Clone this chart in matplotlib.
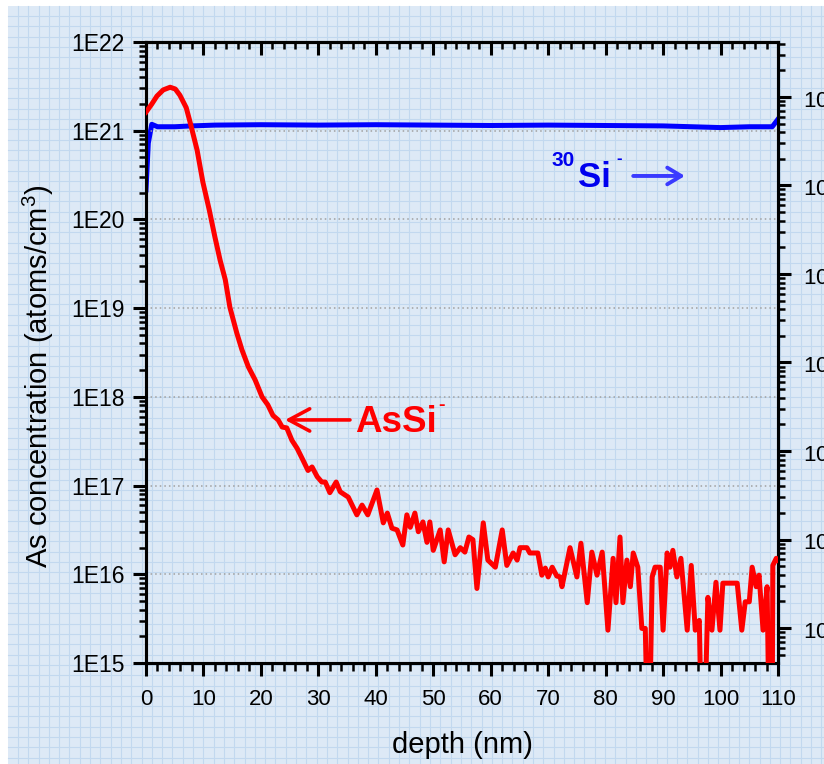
import numpy as np
import matplotlib
matplotlib.use("Agg")
import matplotlib.pyplot as plt
from matplotlib.ticker import FixedLocator, MultipleLocator, LogLocator, FuncFormatter, NullFormatter

plt.rcParams['font.family'] = ['Liberation Sans', 'DejaVu Sans']
plt.rcParams['mathtext.fontset'] = 'custom'
plt.rcParams['mathtext.rm'] = 'Liberation Sans'
plt.rcParams['mathtext.it'] = 'Liberation Sans:italic'
plt.rcParams['mathtext.bf'] = 'Liberation Sans:bold'

# AsSi- profile: depth (nm) and log10 of As concentration (atoms/cm3)
as_depth = [0.0, 1.0, 1.9, 3.0, 4.2, 5.1, 5.9, 7.0, 7.7, 8.9, 9.9, 11.0, 12.0, 12.9, 13.8,
            14.6, 15.8, 16.7, 17.8, 19.0, 20.2, 21.2, 22.1, 23.0, 23.7, 24.5, 25.4, 26.3,
            27.3, 28.2, 28.9, 29.8, 30.6, 31.2, 32.0, 33.1, 33.8, 35.2, 36.7, 37.6, 38.6,
            40.2, 41.3, 42.0, 42.8, 43.7, 44.7, 45.4, 46.0, 46.8, 47.4, 48.2, 48.9, 49.4,
            50.0, 51.2, 51.9, 52.6, 53.8, 54.7, 55.5, 56.2, 56.9, 57.6, 58.7, 59.5, 60.8,
            62.0, 62.8, 63.9, 64.6, 65.1, 66.3, 66.8, 68.2, 68.9, 69.5, 70.0, 70.7, 71.5,
            72.1, 72.4, 73.8, 75.0, 75.7, 76.8, 77.6, 78.5, 79.4, 80.4, 81.3, 81.8, 82.5,
            83.0, 83.7, 84.3, 84.8, 85.6, 86.3, 86.9, 87.2, 87.7, 88.1, 88.6, 89.5, 90.0,
            90.7, 91.2, 91.7, 92.4, 93.1, 94.2, 94.9, 95.6, 96.3, 96.6, 97.3, 97.8, 98.5,
            99.2, 99.9, 100.4, 102.9, 103.7, 104.3, 105.0, 105.5, 106.2, 106.7, 107.4,
            108.1, 108.4, 109.0, 109.1, 109.7, 110.0]
as_log10 = [21.21, 21.30, 21.39, 21.46, 21.49, 21.47, 21.40, 21.26, 21.09, 20.78, 20.42,
            20.11, 19.80, 19.54, 19.32, 19.01, 18.72, 18.53, 18.34, 18.19, 18.00, 17.91,
            17.79, 17.74, 17.66, 17.65, 17.51, 17.42, 17.29, 17.17, 17.21, 17.10, 17.04,
            17.04, 16.92, 17.04, 16.93, 16.87, 16.67, 16.78, 16.67, 16.95, 16.58, 16.69,
            16.52, 16.50, 16.33, 16.67, 16.53, 16.69, 16.48, 16.59, 16.36, 16.59, 16.27,
            16.50, 16.14, 16.50, 16.22, 16.30, 16.25, 16.42, 16.39, 15.84, 16.58, 16.16,
            16.08, 16.50, 16.10, 16.24, 16.16, 16.30, 16.30, 16.24, 16.24, 15.99, 16.07,
            15.97, 16.08, 15.98, 15.97, 15.86, 16.30, 15.97, 16.35, 15.68, 16.25, 15.99,
            16.25, 15.37, 16.18, 15.68, 16.42, 15.68, 16.16, 15.86, 16.24, 16.08, 15.39,
            15.39, 14.50, 14.50, 15.97, 16.08, 16.08, 15.37, 16.24, 16.08, 16.27, 15.97,
            16.18, 15.37, 16.10, 15.37, 15.48, 14.50, 14.50, 15.74, 15.37, 15.91, 15.37,
            15.90, 15.90, 15.37, 15.69, 15.69, 16.08, 15.86, 15.99, 15.37, 15.86, 14.50,
            14.50, 16.10, 16.18, 16.16]

# 30Si- matrix signal (right axis, counts)
si_depth = [0.0, 0.4, 1.0, 2.0, 5.0, 8.0, 12.0, 20.0, 30.0, 40.0, 50.0, 60.0, 70.0,
            80.0, 90.0, 95.0, 100.0, 105.0, 109.0, 110.0]
si_counts = [8.9e4, 3.0e5, 4.9e5, 4.6e5, 4.6e5, 4.7e5, 4.8e5, 4.85e5, 4.8e5, 4.85e5,
             4.8e5, 4.75e5, 4.8e5, 4.75e5, 4.7e5, 4.6e5, 4.5e5, 4.6e5, 4.6e5, 5.6e5]

fig = plt.figure(figsize=(8.24, 7.64), dpi=100)
fig.patch.set_facecolor('white')

# graph-paper background
bg = fig.add_axes([0, 0, 1, 1], zorder=-10)
bg.set_xlim(0, 824)
bg.set_ylim(764, 0)
bg.axis('off')
bg.add_patch(plt.Rectangle((8, 6), 816, 758, color='#dde9f6', lw=0))
for gx in np.arange(18, 824, 10.3):
    bg.plot([gx, gx], [6, 764], color='#c2d8ef', lw=0.8)
for gy in np.arange(16, 764, 10.3):
    bg.plot([8, 824], [gy, gy], color='#c2d8ef', lw=0.8)

ax = fig.add_axes([146 / 824, 1 - 663 / 764, 632 / 824, 621 / 764])
ax2 = ax.twinx()
ax.set_zorder(ax2.get_zorder() + 1)
ax.patch.set_visible(False)
ax2.patch.set_visible(False)

ax.plot(as_depth, 10 ** np.array(as_log10), color='#ff0000', lw=3.6,
        solid_joinstyle='round', zorder=3)
ax2.plot(si_depth, si_counts, color='#0000ff', lw=3.6, solid_joinstyle='round')

ax.set_xlim(0, 110)
ax.set_yscale('log')
ax.set_ylim(1e15, 1e22)
ax.yaxis.set_major_locator(FixedLocator(10.0 ** np.arange(15, 23)))
ax.yaxis.set_major_formatter(FuncFormatter(lambda v, p: f"1E{int(round(np.log10(v)))}"))
ax.yaxis.set_minor_locator(LogLocator(base=10, subs=np.arange(2, 10), numticks=30))
ax.yaxis.set_minor_formatter(NullFormatter())
ax.xaxis.set_major_locator(MultipleLocator(10))
ax.xaxis.set_minor_locator(MultipleLocator(2))

for v in 10.0 ** np.arange(16, 22):
    ax.axhline(v, color='#a0a0a0', ls=(0, (1, 2)), lw=1.1, zorder=1)

ax.tick_params(axis='y', which='major', direction='out', length=9.5, width=2.2,
               labelsize=16.5, pad=6, right=False)
ax.tick_params(axis='y', which='minor', direction='out', length=5, width=1.8, right=False)
ax.tick_params(axis='x', which='major', direction='out', length=9.5, width=2.2,
               labelsize=16, pad=9, top=False)
ax.tick_params(axis='x', which='minor', direction='out', length=5.5, width=1.8, top=False)

secx = ax.secondary_xaxis('top')
secx.xaxis.set_major_locator(MultipleLocator(10))
secx.xaxis.set_minor_locator(MultipleLocator(2))
secx.xaxis.set_major_formatter(NullFormatter())
secx.tick_params(which='major', direction='in', length=9, width=2.2)
secx.tick_params(which='minor', direction='in', length=5, width=1.8)
secx.spines['top'].set_linewidth(2.2)

ax2.set_yscale('log')
ax2.set_ylim(10 ** -0.395, 10 ** 6.62)
ax2.yaxis.set_major_locator(FixedLocator(10.0 ** np.arange(0, 7)))
ax2.yaxis.set_major_formatter(FuncFormatter(lambda v, p: f"$10^{{{int(round(np.log10(v)))}}}$"))
ax2.yaxis.set_minor_locator(LogLocator(base=10, subs=np.arange(2, 10), numticks=30))
ax2.yaxis.set_minor_formatter(NullFormatter())
ax2.tick_params(axis='y', which='major', direction='out', length=9, width=2.2,
                labelsize=16, pad=9)
ax2.tick_params(axis='y', which='minor', direction='out', length=5, width=1.8)

for a in (ax, ax2):
    for s in a.spines.values():
        s.set_linewidth(2.2)

fig.text(462 / 824, 1 - 745 / 764, 'depth (nm)', ha='center', va='center', fontsize=21)
fig.text(38 / 824, 1 - 376 / 764, 'As concentration (atoms/cm$^3$)', rotation=90,
         ha='center', va='center', fontsize=21)

# AsSi- label and arrow
ax.text(36.4, 10 ** 17.60, 'AsSi', color='#ff0000', fontsize=26.5, fontweight='bold',
        ha='left', va='baseline')
ax.text(50.8, 10 ** 17.85, '-', color='#ff0000', fontsize=14, fontweight='bold',
        ha='left', va='baseline')
ax.annotate('', xy=(24.2, 10 ** 17.74), xytext=(35.5, 10 ** 17.74),
            arrowprops=dict(arrowstyle='->,head_length=0.75,head_width=0.4',
                            color='#ff0000', lw=2.6, mutation_scale=20,
                            shrinkA=0, shrinkB=0))

# 30Si- label and arrow
ax.text(75.2, 10 ** 20.365, 'Si', color='#0000ee', fontsize=25, fontweight='bold',
        ha='left', va='baseline')
ax.text(70.5, 10 ** 20.60, '30', color='#0000ee', fontsize=15, fontweight='bold',
        ha='left', va='baseline')
ax.text(81.8, 10 ** 20.636, '-', color='#0000ee', fontsize=12, fontweight='bold',
        ha='left', va='baseline')
ax.annotate('', xy=(93.8, 10 ** 20.49), xytext=(84.8, 10 ** 20.49),
            arrowprops=dict(arrowstyle='->,head_length=0.5,head_width=0.3',
                            color='#3a3aff', lw=2.8, mutation_scale=20,
                            shrinkA=0, shrinkB=0))

fig.savefig('out.png', dpi=100)
